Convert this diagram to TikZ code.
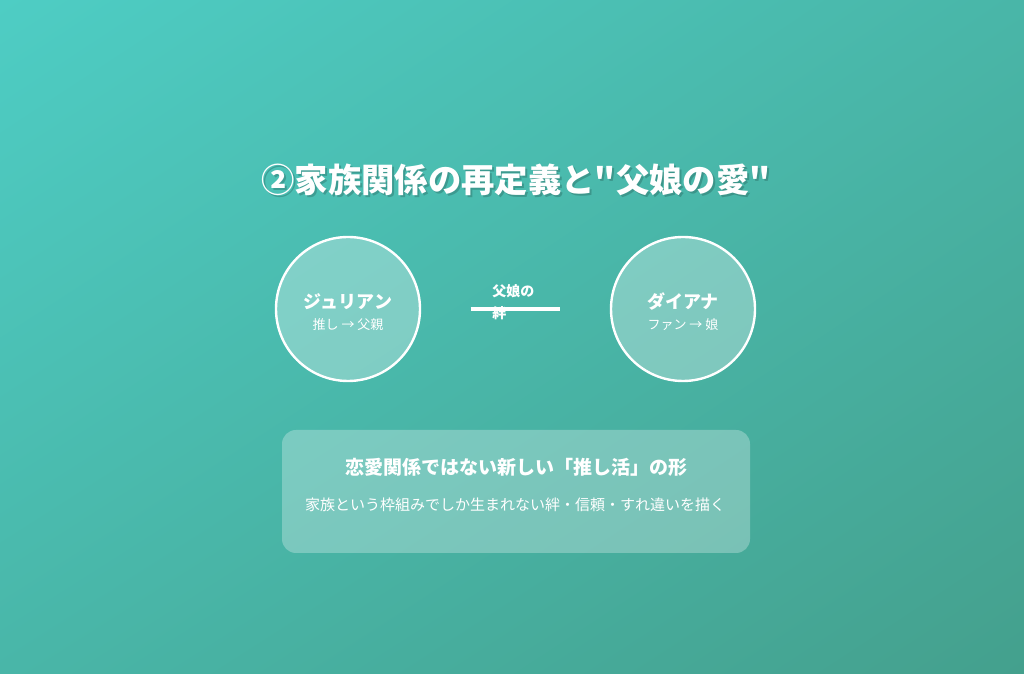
\documentclass[tikz,border=0pt]{standalone}
\usepackage{fontspec}
\setmainfont{Noto Sans CJK JP}
\newfontfamily\titlefont{Noto Sans CJK JP}
\usetikzlibrary{shadings}
\definecolor{tealtop}{HTML}{4ECDC4}
\definecolor{tealbot}{HTML}{44A08D}
\definecolor{tealmid}{HTML}{49B6A8}
\begin{document}
\begin{tikzpicture}[x=0.75pt, y=0.75pt,
        person/.style={circle, draw=white, line width=1.8pt, fill=white, fill opacity=0.3, text opacity=1, text=white, minimum size=108pt, align=center, inner sep=0pt},
        bond/.style={white, line width=3pt, shorten <=37pt, shorten >=37pt}]
        \useasboundingbox (0,0) rectangle (1024,674);
        \shade[upper left=tealtop, lower right=tealbot, upper right=tealmid, lower left=tealmid] (0,0) rectangle (1024,674);

        %titulo
        \node[black, opacity=0.18, font=\titlefont\bfseries\fontsize{25}{30}\selectfont] at (518,492) {②家族関係の再定義と"父娘の愛"};
        \node[white, font=\titlefont\bfseries\fontsize{25}{30}\selectfont] (title) at (516,494) {②家族関係の再定義と"父娘の愛"};

        %pessoas
        \node[person] (julian) at (348,365) {\rule{0pt}{16pt}{\bfseries\fontsize{13.5}{18}\selectfont ジュリアン}\\[4pt]{\fontsize{9.75}{14}\selectfont 推し → 父親}};
        \node[person] (diana) at (683,365) {\rule{0pt}{16pt}{\bfseries\fontsize{13.5}{18}\selectfont ダイアナ}\\[4pt]{\fontsize{9.75}{14}\selectfont ファン → 娘}};

        \draw[bond] (julian) -- (diana);
        \node[white, anchor=west, align=left, inner sep=0pt, font=\bfseries\fontsize{10.5}{16.5}\selectfont] (bondlabel) at (492,372) {父娘の\\絆};

        %caixa
        \filldraw[white, fill opacity=0.28, draw opacity=0, rounded corners=10.5pt] (282,121) rectangle (750,244);
        \node[white, font=\bfseries\fontsize{14.25}{18}\selectfont] (boxtitle) at (516,207) {恋愛関係ではない新しい「推し活」の形};
        \node[white, font=\fontsize{11.25}{15}\selectfont] (boxtext) at (515,169) {家族という枠組みでしか生まれない絆・信頼・すれ違いを描く};

    \end{tikzpicture}
\end{document}
